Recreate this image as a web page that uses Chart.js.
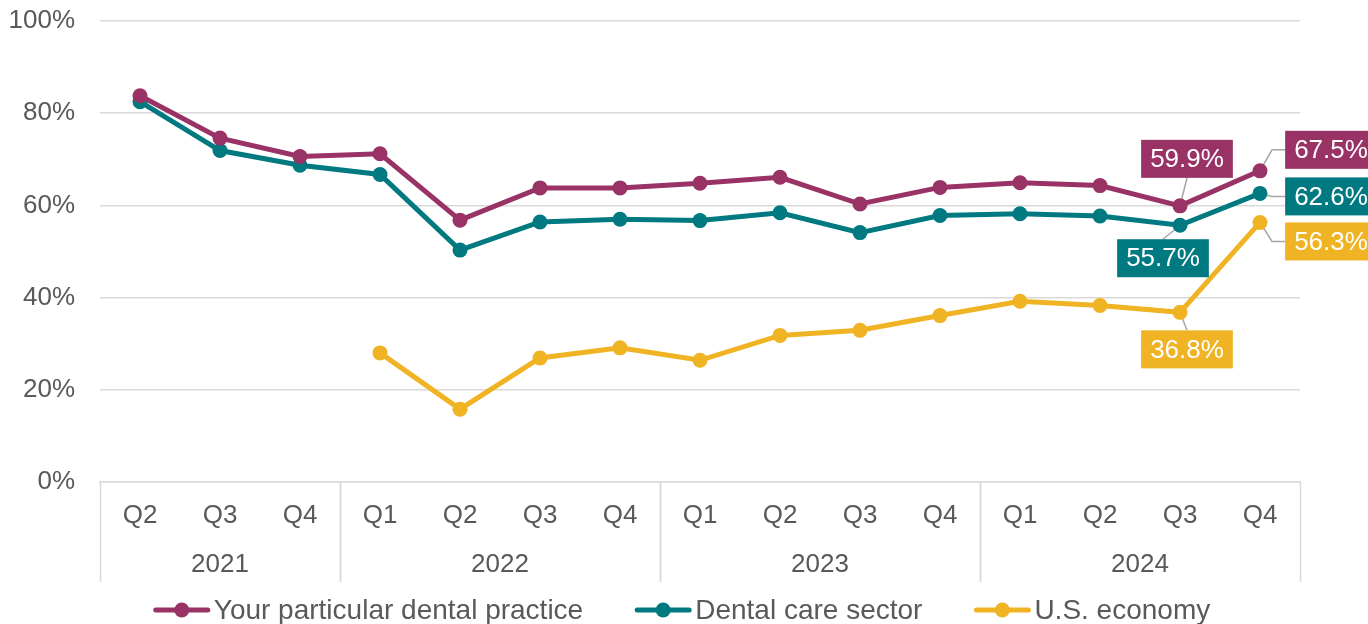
<!DOCTYPE html>
<html><head><meta charset="utf-8">
<script src="https://cdn.jsdelivr.net/npm/chart.js@4/dist/chart.umd.min.js"></script>
<style>html,body{margin:0;padding:0;background:#fff}#wrap{width:1368px;height:624px;position:relative}</style>
</head><body><div id="wrap"><canvas id="c"></canvas></div>
<script>
const quarters = ['Q2','Q3','Q4','Q1','Q2','Q3','Q4','Q1','Q2','Q3','Q4','Q1','Q2','Q3','Q4'];
const years = ['2021','2022','2023','2024'];
const yearSpans = [3, 4, 4, 4];
const seriesNames = ['Your particular dental practice', 'Dental care sector', 'U.S. economy'];
const practice = [83.8, 74.6, 70.6, 71.2, 56.8, 63.8, 63.8, 64.8, 66.1, 60.3, 63.9, 64.9, 64.3, 59.9, 67.5];
const sector   = [82.5, 71.9, 68.7, 66.7, 50.3, 56.4, 57.0, 56.7, 58.4, 54.1, 57.8, 58.2, 57.7, 55.7, 62.6];
const economy  = [null, null, null, 28.0, 15.8, 26.9, 29.1, 26.4, 31.8, 32.9, 36.1, 39.2, 38.3, 36.8, 56.3];
const yMin = 0, yMax = 100, yStep = 20;

const colors = ['#993366', '#007A80', '#F0B323'];
const FONT = '"Liberation Sans", Arial, sans-serif';
const TEXT = '#595959';
const GRID = '#D9D9D9';

// which points carry a value label, and where the label box sits relative to the point
const labelSpecs = [
  {ds: 0, i: 13, dx: 7,   dy: -47, leader: 'v'},
  {ds: 0, i: 14, dx: 71,  dy: -21, leader: 'h'},
  {ds: 1, i: 13, dx: -17, dy: 33,  leader: 'v'},
  {ds: 1, i: 14, dx: 71,  dy: 3,   leader: 'h'},
  {ds: 2, i: 13, dx: 7,   dy: 37,  leader: 'v'},
  {ds: 2, i: 14, dx: 71,  dy: 19,  leader: 'h'}
];

function boxFor(chart, s) {
  const ctx = chart.ctx;
  const pt = chart.getDatasetMeta(s.ds).data[s.i];
  const v = chart.data.datasets[s.ds].data[s.i];
  const txt = v.toFixed(1) + '%';
  ctx.font = '26px ' + FONT;
  const tw = ctx.measureText(txt).width;
  const w = tw + 18, h = 38;
  const cx = pt.x + s.dx, cy = pt.y + s.dy;
  return {pt, txt, w, h, cx, cy, left: cx - w / 2, top: cy - h / 2};
}

const labelPlugin = {
  id: 'valueLabels',
  beforeDatasetsDraw(chart) {
    const ctx = chart.ctx;
    ctx.save();
    ctx.strokeStyle = '#A6A6A6';
    ctx.lineWidth = 1.5;
    labelSpecs.forEach(s => {
      const b = boxFor(chart, s);
      ctx.beginPath();
      ctx.moveTo(b.pt.x, b.pt.y);
      if (s.leader === 'h') {
        ctx.lineTo(b.pt.x + 12, b.cy);
        ctx.lineTo(b.left, b.cy);
      } else {
        const ey = b.cy < b.pt.y ? b.top + b.h : b.top;
        ctx.lineTo(b.cx, ey);
      }
      ctx.stroke();
    });
    ctx.restore();
  },
  afterDatasetsDraw(chart) {
    const ctx = chart.ctx;
    ctx.save();
    labelSpecs.forEach(s => {
      const b = boxFor(chart, s);
      ctx.fillStyle = colors[s.ds];
      ctx.fillRect(b.left, b.top, b.w, b.h);
      ctx.fillStyle = '#FFFFFF';
      ctx.font = '26px ' + FONT;
      ctx.textAlign = 'center';
      ctx.textBaseline = 'middle';
      ctx.fillText(b.txt, b.cx, b.cy + 1);
    });
    ctx.restore();
  }
};

const groupAxisPlugin = {
  id: 'groupAxis',
  afterDraw(chart) {
    const ctx = chart.ctx;
    const xs = chart.scales.x;
    const half = (xs.getPixelForValue(1) - xs.getPixelForValue(0)) / 2;
    const top = xs.top, bottom = xs.top + 100;
    ctx.save();
    ctx.strokeStyle = GRID;
    ctx.lineWidth = 1.5;
    ctx.fillStyle = TEXT;
    ctx.font = '26px ' + FONT;
    ctx.textAlign = 'center';
    ctx.textBaseline = 'middle';
    let start = 0;
    years.forEach((yr, k) => {
      const end = start + yearSpans[k] - 1;
      const l = xs.getPixelForValue(start) - half;
      const r = xs.getPixelForValue(end) + half;
      [l, r].forEach(x => {
        ctx.beginPath();
        ctx.moveTo(Math.round(x) + 0.5, top);
        ctx.lineTo(Math.round(x) + 0.5, bottom);
        ctx.stroke();
      });
      ctx.fillText(yr, (l + r) / 2, 565);
      start = end + 1;
    });
    ctx.restore();
  }
};

const legendPlugin = {
  id: 'customLegend',
  afterDraw(chart) {
    const ctx = chart.ctx;
    ctx.save();
    ctx.font = '28px ' + FONT;
    const mw = 56, gap = 4, sep = 52;
    const widths = seriesNames.map(n => ctx.measureText(n).width);
    const total = widths.reduce((a, w) => a + mw + gap + w, 0) + sep * (seriesNames.length - 1);
    let x = 682 - total / 2;
    const y = 610;
    seriesNames.forEach((n, k) => {
      ctx.strokeStyle = colors[k];
      ctx.fillStyle = colors[k];
      ctx.lineWidth = 5;
      ctx.lineCap = 'round';
      ctx.beginPath();
      ctx.moveTo(x + 2, y);
      ctx.lineTo(x + mw - 2, y);
      ctx.stroke();
      ctx.beginPath();
      ctx.arc(x + mw / 2, y, 7.5, 0, Math.PI * 2);
      ctx.fill();
      ctx.fillStyle = TEXT;
      ctx.textAlign = 'left';
      ctx.textBaseline = 'middle';
      ctx.fillText(n, x + mw + gap, y + 1);
      x += mw + gap + widths[k] + sep;
    });
    ctx.restore();
  }
};

const seriesData = [practice, sector, economy];

new Chart(document.getElementById('c'), {
  type: 'line',
  data: {
    labels: quarters,
    datasets: seriesData.map((d, k) => ({
      label: seriesNames[k],
      data: d,
      borderColor: colors[k],
      backgroundColor: colors[k],
      pointBackgroundColor: colors[k],
      borderWidth: 5,
      pointRadius: 7.5,
      pointBorderWidth: 0,
      pointHoverRadius: 7.5,
      tension: 0,
      spanGaps: false,
      fill: false
    }))
  },
  options: {
    responsive: true,
    maintainAspectRatio: false,
    animation: false,
    events: [],
    layout: {padding: {left: 0, right: 68, top: 21, bottom: 42}},
    plugins: {legend: {display: false}, tooltip: {enabled: false}},
    scales: {
      x: {
        type: 'category',
        offset: true,
        grid: {display: false, drawTicks: false},
        border: {display: true, color: GRID, width: 1.5},
        ticks: {color: TEXT, font: {family: FONT, size: 26}, padding: 18, maxRotation: 0, autoSkip: false},
        afterFit(scale) { scale.height = 100; }
      },
      y: {
        min: yMin, max: yMax,
        grid: {color: GRID, lineWidth: 1.5, drawTicks: false},
        border: {display: false},
        ticks: {stepSize: yStep, color: TEXT, font: {family: FONT, size: 26}, padding: 25,
          callback: v => v + '%'},
        afterFit(scale) { scale.width = 100; scale.paddingTop = 0; scale.paddingBottom = 0; }
      }
    }
  },
  plugins: [labelPlugin, groupAxisPlugin, legendPlugin]
});
</script>
</body></html>
